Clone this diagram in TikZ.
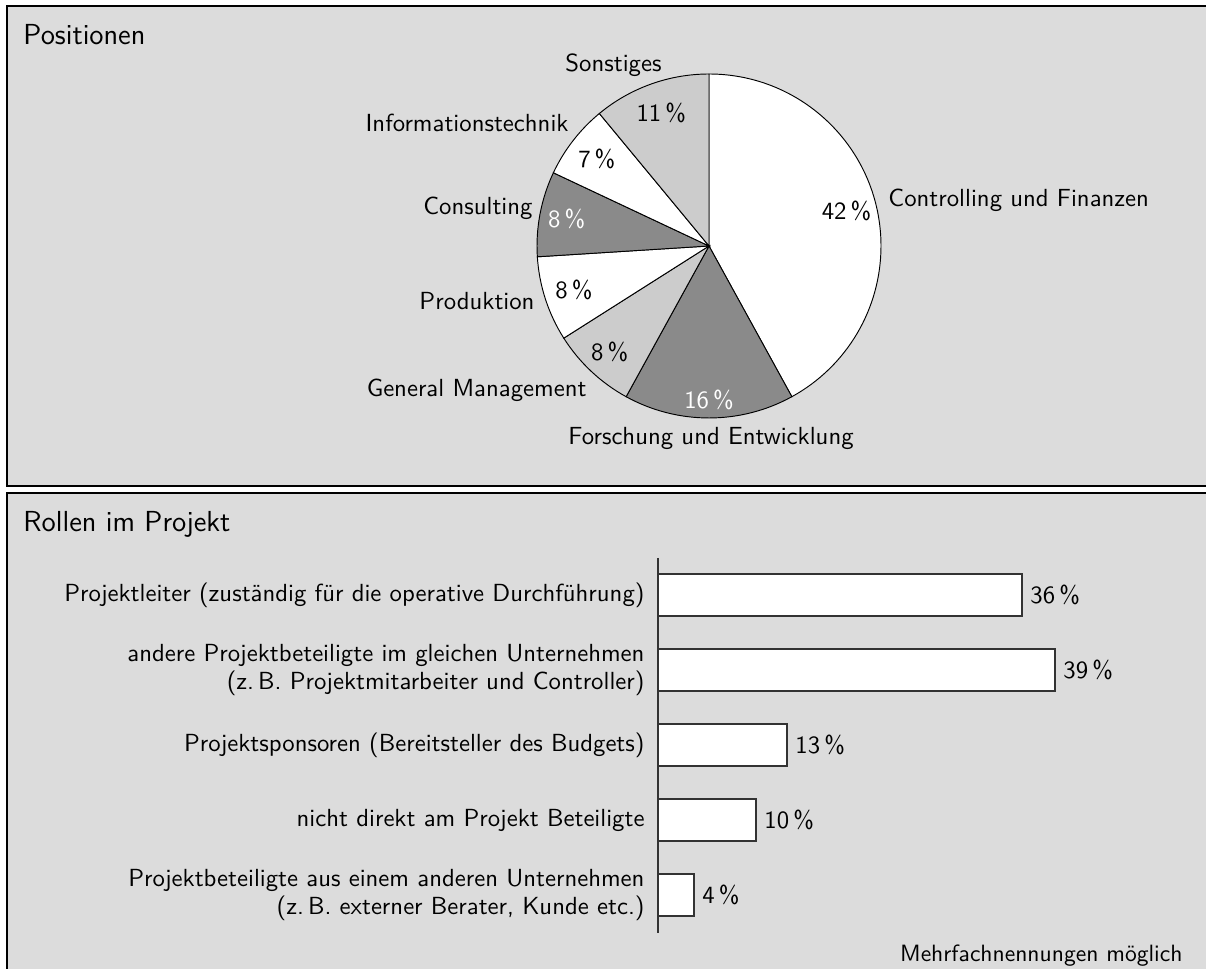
\documentclass[tikz,border=0pt]{standalone}
\usepackage{fontspec}
\renewcommand{\familydefault}{\sfdefault}
\definecolor{panelgray}{gray}{0.863}
\definecolor{darkslice}{gray}{0.54}
\definecolor{lightslice}{gray}{0.80}
\newcommand{\pieangle}{-90}

\begin{document}
\begin{tikzpicture}[x=0.4243pt, y=-0.4243pt,
    panel/.style={fill=panelgray, draw=black, line width=0.8pt},
    heading/.style={font=\fontsize{12.3}{14}\selectfont, anchor=base west, inner sep=0pt},
    txt/.style={inner sep=0pt, font=\fontsize{10.5}{12}\selectfont},
    bar/.style={fill=white, draw=black!80, line width=0.6pt}]
  \useasboundingbox (0,0) rectangle (1206,969);
  % panels
  \filldraw[panel] (7,6) rectangle (1230,486);
  \filldraw[panel] (7,493) rectangle (1230,990);
  \node[heading] (pos) at (23,45) {Positionen};
  \node[heading] (rol) at (23,532) {Rollen im Projekt};

  % pie
  \coordinate (c) at (709,246);
  \foreach \pct/\fc/\tc/\rr [count=\i] in {42/white/black/142, 16/darkslice/white/154, 8/lightslice/black/145, 8/white/black/142, 8/darkslice/white/145, 7/white/black/142, 11/lightslice/black/141}{
    \pgfmathsetmacro{\endangle}{\pieangle+3.6*\pct}
    \pgfmathsetmacro{\midangle}{(\pieangle+\endangle)/2}
    \filldraw[fill=\fc] (c) -- ++(\pieangle:172) arc[start angle=\pieangle, end angle=\endangle, radius=172] -- cycle;
    \path (c) ++(\midangle:\rr) node[txt, text=\tc] (p\i) {\pct\,\%};
    \global\let\pieangle\endangle
  }
  \node[txt, anchor=base west] (son) at (565,72) {Sonstiges};
  \node[txt, anchor=base east] (inf) at (569,132) {Informationstechnik};
  \node[txt, anchor=base east] (con) at (533,215) {Consulting};
  \node[txt, anchor=base east] (pro) at (535,310) {Produktion};
  \node[txt, anchor=base east] (gen) at (587,397) {General Management};
  \node[txt, anchor=base west] (for) at (568,445) {Forschung und Entwicklung};
  \node[txt, anchor=base west] (ctl) at (888,207) {Controlling und Finanzen};

  % bars
  \foreach \len/\pct/\lab [count=\i from 0] in {364/36/{Projektleiter (zuständig für die operative Durchführung)}, 397/39/{andere Projektbeteiligte im gleichen Unternehmen\\(z.\,B. Projektmitarbeiter und Controller)}, 129/13/{Projektsponsoren (Bereitsteller des Budgets)}, 98/10/{nicht direkt am Projekt Beteiligte}, 36/4/{Projektbeteiligte aus einem anderen Unternehmen\\(z.\,B. externer Berater, Kunde etc.)}}{
    \draw[bar] (658,574+75*\i) rectangle ++(\len,42);
    \node[txt, anchor=west] (v\i) at (666+\len,595+75*\i) {\pct\,\%};
    \node[txt, anchor=east, align=right] (l\i) at (645,595+75*\i) {\lab};
  }
  \draw[line width=0.6pt, draw=black!80] (658,558) coordinate (axtop) -- (658,933) coordinate (axbot);
  \node[txt, font=\normalsize, anchor=base east] (note) at (1183,962) {Mehrfachnennungen möglich};
\end{tikzpicture}
\end{document}
